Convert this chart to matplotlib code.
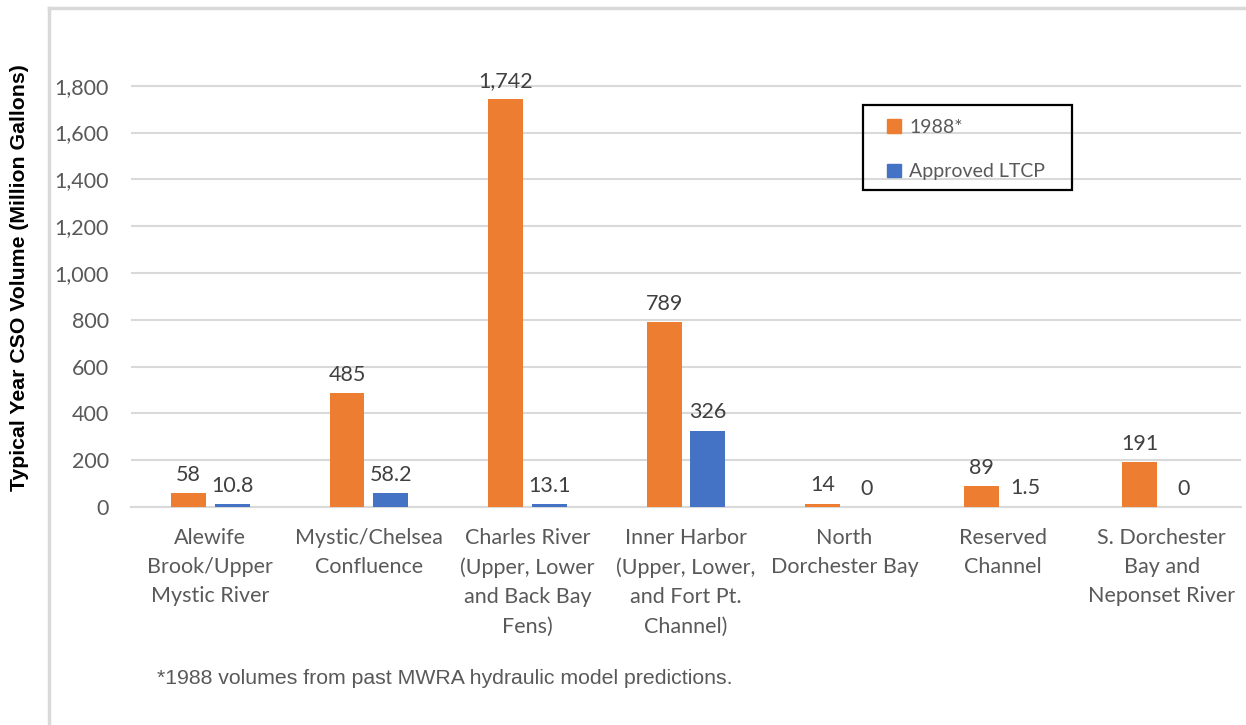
import numpy as np
import matplotlib
matplotlib.use("Agg")
import matplotlib.pyplot as plt
from matplotlib.lines import Line2D
from matplotlib.patches import Patch, Rectangle

categories = ["Alewife\nBrook/Upper\nMystic River",
              "Mystic/Chelsea\nConfluence",
              "Charles River\n(Upper, Lower\nand Back Bay\nFens)",
              "Inner Harbor\n(Upper, Lower,\nand Fort Pt.\nChannel)",
              "North\nDorchester Bay",
              "Reserved\nChannel",
              "S. Dorchester\nBay and\nNeponset River"]
vol_1988 = [58, 485, 1742, 789, 14, 89, 191]
vol_ltcp = [10.8, 58.2, 13.1, 326, 0, 1.5, 0]
labels_1988 = ["58", "485", "1,742", "789", "14", "89", "191"]
labels_ltcp = ["10.8", "58.2", "13.1", "326", "0", "1.5", "0"]
yticks = [0, 200, 400, 600, 800, 1000, 1200, 1400, 1600, 1800]

orange = "#ED7D31"
blue = "#4472C4"
grid = "#D9D9D9"
txt = "#595959"
lbl = "#404040"
cat_font = "Lato"

fig = plt.figure(figsize=(12.46, 7.25), dpi=100)
W, H = 1246, 725
# axes in pixel terms: left 131, right 1241, bottom (y=0) 507, top 60
ax = fig.add_axes([131 / W, 1 - 507 / H, (1241 - 131) / W, (507 - 60) / H])

x = np.arange(len(categories))
bw = 0.22
gap = 0.028
b1 = ax.bar(x - bw / 2 - gap, vol_1988, bw, color=orange, label="1988*", zorder=3)
b2 = ax.bar(x + bw / 2 + gap, vol_ltcp, bw, color=blue, label="Approved LTCP", zorder=3)

for rects, labs in ((b1, labels_1988), (b2, labels_ltcp)):
    for r, s in zip(rects, labs):
        ax.annotate(s, (r.get_x() + r.get_width() / 2, r.get_height()),
                    xytext=(0, 6), textcoords="offset points",
                    ha="center", va="bottom", fontsize=15.5, color=lbl,
                    family=cat_font)

ax.set_xlim(-0.5, len(categories) - 0.5)
ax.set_ylim(0, 1910)
ax.set_yticks(yticks)
ax.set_yticklabels([f"{v:,}" for v in yticks], fontsize=15.5, color=txt, family=cat_font)
ax.set_xticks(x)
ax.set_xticklabels(categories, fontsize=15.5, color=txt, family=cat_font, linespacing=1.58, va="top")
ax.tick_params(length=0, axis="y", pad=16)
ax.tick_params(length=0, axis="x", pad=15)
ax.grid(axis="y", color=grid, linewidth=1.5, zorder=0)
for s in ("top", "right", "left"):
    ax.spines[s].set_visible(False)
ax.spines["bottom"].set_color(grid)
ax.spines["bottom"].set_linewidth(1.5)

ax.set_ylabel("Typical Year CSO Volume (Million Gallons)", fontsize=15.3,
              fontweight="bold", family="Liberation Sans", color="black")
ax.yaxis.set_label_coords(-(131 - 29) / (1241 - 131), 0.5 - (277 - 283) / 447)

# legend: frame drawn by hand, entries placed inside it
fig.add_artist(Rectangle((863 / W, 1 - 190 / H), (1072 - 863) / W, (190 - 105) / H,
                         transform=fig.transFigure, fill=False, edgecolor="black",
                         linewidth=1.6, zorder=5))
handles = [Patch(color=orange), Patch(color=blue)]
leg = fig.legend(handles, ["1988*", "Approved LTCP"], loc="upper left",
                 bbox_to_anchor=(887 / W, 1 - 119 / H),
                 frameon=False, fontsize=14,
                 handlelength=0.7, handleheight=0.7, handletextpad=0.45,
                 borderpad=0, labelspacing=1.4, borderaxespad=0)
for t in leg.get_texts():
    t.set_color(txt)
    t.set_family(cat_font)

fig.text(157 / W, 1 - 679 / H, "*1988 volumes from past MWRA hydraulic model predictions.",
         fontsize=15.3, color=txt, family="Liberation Sans", va="center", ha="left")

# outer frame lines of the chart area
fig.add_artist(Line2D([49 / W, 49 / W], [0, 1 - 8 / H], color=grid, linewidth=2.5))
fig.add_artist(Line2D([49 / W, 1], [1 - 8 / H, 1 - 8 / H], color=grid, linewidth=2.5))

fig.savefig("out.png", dpi=100)
